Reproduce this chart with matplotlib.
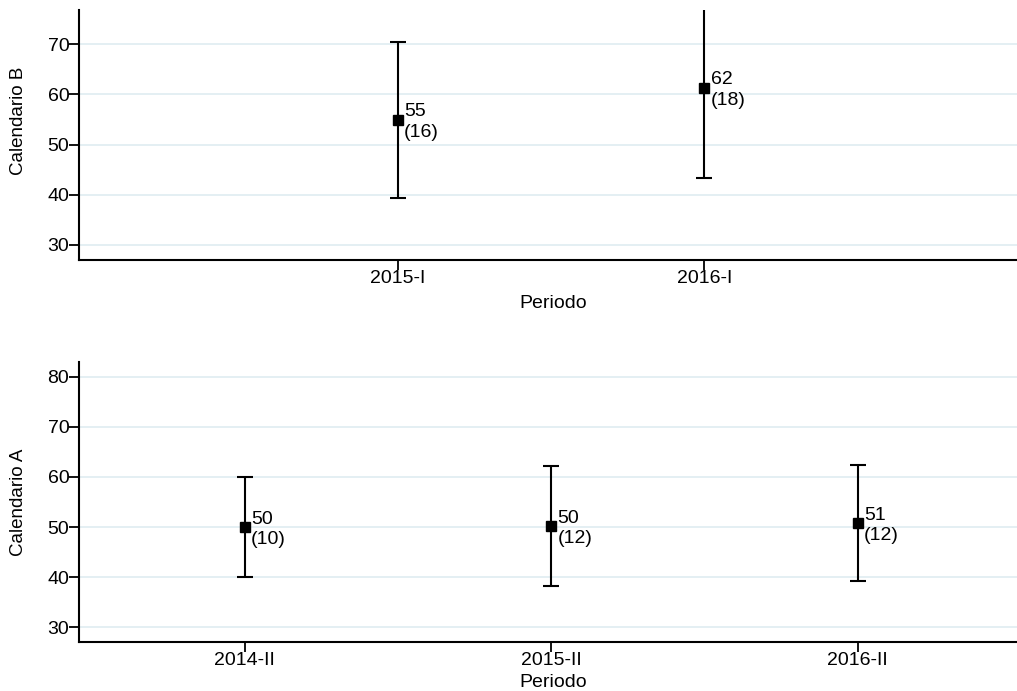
import matplotlib; matplotlib.use('Agg')
import matplotlib.pyplot as plt, numpy as np

plt.rcParams.update({'font.family': ['Liberation Sans', 'DejaVu Sans'], 'font.size': 14})
GRID = '#e2eef2'

# Calendario B (top)
b_periods = ['2015-I', '2016-I']
b_pos = [0.5, 1.5]
b_mean = [54.9, 61.3]
b_sd = [15.6, 18.0]
b_lab_mean = [55, 62]
b_lab_sd = [16, 18]

# Calendario A (bottom)
a_periods = ['2014-II', '2015-II', '2016-II']
a_pos = [0, 1, 2]
a_mean = [50.0, 50.2, 50.8]
a_sd = [10.0, 12.0, 11.5]
a_lab_mean = [50, 50, 51]
a_lab_sd = [10, 12, 12]

fig = plt.figure(figsize=(10.17, 6.91), dpi=100)
ax_b = fig.add_axes([79/1017, 1 - 260/691, 938/1017, 250/691])
ax_a = fig.add_axes([79/1017, 1 - 642/691, 938/1017, 280/691])


def panel(ax, pos, mean, sd, lm, ls, labels, ylim, yticks, ylabel, ylab_y, xlab_y):
    ax.errorbar(pos, mean, yerr=sd, fmt='s', color='black', ms=7.5, lw=1.5,
                capsize=5.5, capthick=1.5, zorder=3)
    for x, m, a, s in zip(pos, mean, lm, ls):
        ax.annotate(f'{a}\n({s})', (x, m), xytext=(4.5, -1.5), textcoords='offset points',
                    ha='left', va='center', fontsize=14, linespacing=1.25)
    ax.set_xlim(-0.54, 2.52)
    ax.set_ylim(*ylim)
    ax.set_yticks(yticks)
    ax.set_xticks(pos)
    ax.set_xticklabels(labels)
    ax.grid(axis='y', color=GRID, lw=1.3)
    ax.set_axisbelow(True)
    for s in ['top', 'right']:
        ax.spines[s].set_visible(False)
    for s in ['left', 'bottom']:
        ax.spines[s].set_linewidth(1.5)
    ax.tick_params(axis='both', length=7, width=1.3, labelsize=14)
    ax.tick_params(axis='x', pad=0)
    ax.tick_params(axis='y', pad=0)
    ax.set_ylabel(ylabel, fontsize=13.5)
    ax.yaxis.set_label_coords(-0.064, ylab_y)
    ax.set_xlabel('Periodo', fontsize=14)
    ax.xaxis.set_label_coords(0.505, xlab_y)
    ax.xaxis.label.set_va('center')
    ax.yaxis.label.set_va('center')


panel(ax_b, b_pos, b_mean, b_sd, b_lab_mean, b_lab_sd, b_periods,
      (27, 76.8), [30, 40, 50, 60, 70], 'Calendario B', 0.556, -0.172)
panel(ax_a, a_pos, a_mean, a_sd, a_lab_mean, a_lab_sd, a_periods,
      (27.1, 82.9), [30, 40, 50, 60, 70, 80], 'Calendario A', 0.5, -0.143)

fig.savefig('out.png', dpi=100)
